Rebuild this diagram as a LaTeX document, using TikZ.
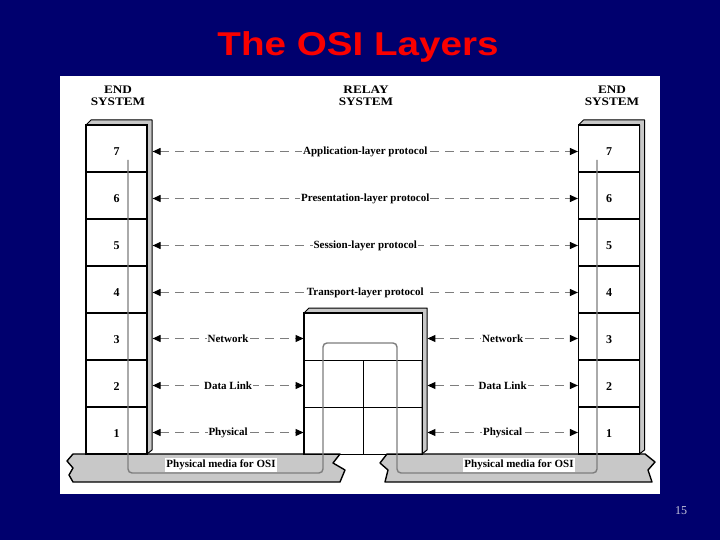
\documentclass[tikz,border=0pt]{standalone}
\usepackage{fontspec}
\setmainfont{Liberation Serif}
\newfontfamily\titlefont{Liberation Sans}
\usetikzlibrary{arrows.meta}

\definecolor{slideblue}{RGB}{0,0,110}
\definecolor{titlered}{RGB}{250,0,0}
\definecolor{shadegray}{RGB}{200,200,200}
\definecolor{wiregray}{RGB}{125,125,125}
\definecolor{pagegray}{RGB}{200,200,220}

\newcommand*{\lx}{116.5}
\newcommand*{\rx}{609}
\newcommand*{\rowtop}{148.5}
\newcommand*{\rowh}{47}

\begin{document}
\begin{tikzpicture}
[
	x=1pt, y=-1pt,
	layer/.style={draw,line width=1.2pt,minimum width=61pt,minimum height=47pt,inner sep=0pt,
		text height=14pt,text depth=0pt,font=\bfseries\fontsize{12}{12}\selectfont},
	relaycell/.style={draw,line width=0.9pt,minimum height=47pt,inner sep=0pt},
	shade/.style={fill=shadegray,draw=black,line width=1pt,line join=round},
	proto/.style={wiregray,line width=1.1pt,dash pattern=on 9pt off 6pt,
		{Triangle[length=8pt,width=7pt,fill=black,color=black]}-{Triangle[length=8pt,width=7pt,fill=black,color=black]}},
	plabel/.style={fill=white,inner sep=1pt,text=black,font=\bfseries\fontsize{11}{11}\selectfont},
	head/.style={align=center,xscale=1.15,font=\bfseries\fontsize{11.5}{12}\selectfont},
	wire/.style={wiregray,line width=1.4pt,rounded corners=4pt}
]
	\useasboundingbox (0,0) rectangle (720,540);

	% slide
	\fill[slideblue] (0,0) rectangle (720,540);
	\fill[white] (60,76) rectangle (660,494);
	\node[text=titlered,font=\titlefont\bfseries\fontsize{33}{33}\selectfont,xscale=1.17]
		(title) at (358,47) {The OSI Layers};
	\node[text=pagegray,font=\fontsize{12}{12}\selectfont] (page) at (681,511) {15};

	% headings
	\node[head] (lhead) at (118,96) {END\\SYSTEM};
	\node[head] (mhead) at (366,96) {RELAY\\SYSTEM};
	\node[head] (rhead) at (612,96) {END\\SYSTEM};

	% physical media
	\draw[shade,line width=1.4pt] (73,454) -- (340,454) -- (333,463) -- (345,470) -- (340,482)
		-- (73,482) -- (69,475) -- (73,468) -- (67,461) -- cycle;
	\draw[shade,line width=1.4pt] (387,454) -- (645,454) -- (655,462) -- (648,470) -- (652,482)
		-- (385,482) -- (388,470) -- (380,463) -- cycle;

	% stacks
	\draw[shade] (86,125) -- (91,120) -- (152,120) -- (152,450) -- (147,454) -- (147,125) -- cycle;
	\draw[shade] (578.5,125) -- (583.5,120) -- (644.5,120) -- (644.5,450) -- (639.5,454) -- (639.5,125) -- cycle;
	\foreach \n [count=\i from 0] in {7,6,5,4,3,2,1}
	{
		\node[layer,fill=white] (l\n) at (\lx,\rowtop+\rowh*\i) {\n};
		\node[layer,fill=white] (r\n) at (\rx,\rowtop+\rowh*\i) {\n};
	}

	% relay system
	\draw[shade] (304,313) -- (309,308) -- (427,308) -- (427,450) -- (422,454) -- (422,313) -- cycle;
	\node[relaycell,fill=white,minimum width=118pt] (rel3) at (363,336.5) {};
	\node[relaycell,minimum width=59pt] (rel2a) at (333.5,383.5) {};
	\node[relaycell,minimum width=59pt] (rel2b) at (392.5,383.5) {};
	\node[relaycell,minimum width=59pt] (rel1a) at (333.5,430.5) {};
	\node[relaycell,minimum width=59pt] (rel1b) at (392.5,430.5) {};
	\draw[line width=1.2pt] (rel3.north west) rectangle (rel1b.south east);

	% peer protocols
	\draw[proto] ([xshift=5pt,yshift=-3pt]l7.east) -- ([yshift=-3pt]r7.west) node[plabel,midway] {Application-layer protocol};
	\draw[proto] ([xshift=5pt,yshift=-3pt]l6.east) -- ([yshift=-3pt]r6.west) node[plabel,midway] {Presentation-layer protocol};
	\draw[proto] ([xshift=5pt,yshift=-3pt]l5.east) -- ([yshift=-3pt]r5.west) node[plabel,midway] {Session-layer protocol};
	\draw[proto] ([xshift=5pt,yshift=-3pt]l4.east) -- ([yshift=-3pt]r4.west) node[plabel,midway] {Transport-layer protocol};
	\draw[proto] ([xshift=5pt,yshift=-2pt]l3.east) -- ([yshift=-2pt]rel3.west) node[plabel,midway] {Network};
	\draw[proto] ([xshift=5pt,yshift=-2pt]l2.east) -- ([yshift=-2pt]rel2a.west) node[plabel,midway] {Data Link};
	\draw[proto] ([xshift=5pt,yshift=-2pt]l1.east) -- ([yshift=-2pt]rel1a.west) node[plabel,midway] {Physical};
	\draw[proto] ([xshift=5pt,yshift=-2pt]rel3.east) -- ([yshift=-2pt]r3.west) node[plabel,midway] {Network};
	\draw[proto] ([xshift=5pt,yshift=-2pt]rel2b.east) -- ([yshift=-2pt]r2.west) node[plabel,midway] {Data Link};
	\draw[proto] ([xshift=5pt,yshift=-2pt]rel1b.east) -- ([yshift=-2pt]r1.west) node[plabel,midway] {Physical};

	% data path
	\coordinate (wstart) at (128,160);
	\coordinate (wend) at (597,160);
	\draw[wire] (wstart) -- (128,473) -- (323,473) -- (323,343) -- (397,343) -- (397,473) -- (597,473) -- (wend);

	\node[plabel,inner sep=1.5pt] (lmedia) at (221,465) {Physical media for OSI};
	\node[plabel,inner sep=1.5pt] (rmedia) at (519,465) {Physical media for OSI};

\end{tikzpicture}
\end{document}
